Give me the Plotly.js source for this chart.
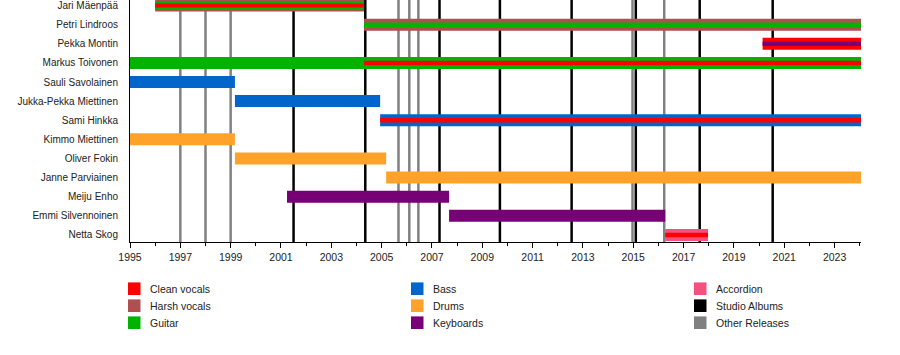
<!DOCTYPE html>
<html>
<head>
<meta charset="utf-8">
<script src="https://cdn.plot.ly/plotly-3.0.1.min.js"></script>
<style>html,body{margin:0;padding:0;background:#fff;}#chart{width:900px;height:355px;}</style>
</head>
<body>
<div id="chart"></div>
<script>
// ---------- data ----------
var members = ['Jari Mäenpää','Petri Lindroos','Pekka Montin','Markus Toivonen','Sauli Savolainen',
  'Jukka-Pekka Miettinen','Sami Hinkka','Kimmo Miettinen','Oliver Fokin','Janne Parviainen',
  'Meiju Enho','Emmi Silvennoinen','Netta Skog'];

var END = 2024.05;

var segMember = ['Jari Mäenpää','Jari Mäenpää','Jari Mäenpää',
  'Petri Lindroos','Petri Lindroos',
  'Pekka Montin','Pekka Montin',
  'Markus Toivonen','Markus Toivonen',
  'Sauli Savolainen',
  'Jukka-Pekka Miettinen',
  'Sami Hinkka','Sami Hinkka',
  'Kimmo Miettinen',
  'Oliver Fokin',
  'Janne Parviainen',
  'Meiju Enho',
  'Emmi Silvennoinen',
  'Netta Skog','Netta Skog'];
var segRole = ['Harsh vocals','Guitar','Clean vocals',
  'Harsh vocals','Guitar',
  'Clean vocals','Keyboards',
  'Guitar','Clean vocals',
  'Bass',
  'Bass',
  'Bass','Clean vocals',
  'Drums',
  'Drums',
  'Drums',
  'Keyboards',
  'Keyboards',
  'Accordion','Clean vocals'];
var segStart = [1996.0,1996.0,1996.0,
  2004.3,2004.3,
  2020.14,2020.14,
  1995.0,2004.3,
  1995.0,
  1999.17,
  2004.94,2004.94,
  1995.0,
  1999.17,
  2005.18,
  2001.24,
  2007.68,
  2016.27,2016.27];
var segEnd = [2004.3,2004.3,2004.3,
  END,END,
  END,END,
  END,END,
  1999.17,
  2004.94,
  END,END,
  1999.17,
  2005.18,
  END,
  2007.68,
  2016.27,
  2017.97,2017.97];

var studioAlbums = [2001.5, 2004.35, 2007.3, 2009.7, 2012.55, 2015.1, 2017.64, 2020.54];
var otherReleases = [1997.0, 1998.0, 1999.0, 2005.67, 2006.1, 2006.46, 2014.97, 2016.23];

var legendItems = ['Clean vocals','Harsh vocals','Guitar','Bass','Drums','Keyboards','Accordion','Studio Albums','Other Releases'];

var tickYears = [1995,1997,1999,2001,2003,2005,2007,2009,2011,2013,2015,2017,2019,2021,2023];

// ---------- styles ----------
var colors = {
  'Clean vocals':'#FF0000',
  'Harsh vocals':'#B04F4F',
  'Guitar':'#00B300',
  'Bass':'#0066CC',
  'Drums':'#FFA229',
  'Keyboards':'#770077',
  'Accordion':'#F5507F',
  'Studio Albums':'#000000',
  'Other Releases':'#808080'
};

var FONT = 'Liberation Sans, Arial, sans-serif';
var ROWPX = 19.1;
var layerPx = {1:[12], 2:[12,4.5], 3:[12,8,4]};

var counts = {};
segMember.forEach(function(m){ counts[m] = (counts[m]||0)+1; });
var seen = {};
var traces = [];
for (var i=0;i<segMember.length;i++){
  var m = segMember[i];
  var k = seen[m]||0; seen[m]=k+1;
  var w = layerPx[counts[m]][k]/ROWPX;
  traces.push({
    type:'bar', orientation:'h',
    y:[m], base:[segStart[i]], x:[segEnd[i]-segStart[i]],
    width:[w],
    marker:{color:colors[segRole[i]], line:{width:0}},
    hoverinfo:'skip', showlegend:false
  });
}

var shapes = [];
otherReleases.forEach(function(d){
  shapes.push({type:'line', xref:'x', yref:'paper', x0:d, x1:d, y0:0, y1:1, layer:'below',
    line:{color:colors['Other Releases'], width:2.5}});
});
studioAlbums.forEach(function(d){
  shapes.push({type:'line', xref:'x', yref:'paper', x0:d, x1:d, y0:0, y1:1, layer:'below',
    line:{color:colors['Studio Albums'], width:2.5}});
});

// legend built from shapes + annotations
var L = 130, PW = 731, PB = 242, PH = 242;
function px2x(p){ return (p-L)/PW; }
function px2y(p){ return (PB-p)/PH; }
var annotations = [];
legendItems.forEach(function(name, i){
  var col = Math.floor(i/3), row = i%3;
  var sx = 128 + col*283;
  var cy = 288.7 + row*17;
  shapes.push({type:'rect', xref:'paper', yref:'paper',
    x0:px2x(sx), x1:px2x(sx+12.5), y0:px2y(cy-6.3), y1:px2y(cy+6.3),
    fillcolor:colors[name], line:{width:0}});
  annotations.push({xref:'paper', yref:'paper', x:px2x(sx+20), y:px2y(cy),
    xanchor:'left', yanchor:'middle', showarrow:false, text:name,
    font:{family:FONT, size:10.5, color:'#222'}});
});

var layout = {
  width:900, height:355,
  margin:{l:130, r:39, t:0, b:113, pad:0},
  paper_bgcolor:'#fff', plot_bgcolor:'#fff',
  barmode:'overlay',
  showlegend:false,
  font:{family:FONT, size:10, color:'#222'},
  xaxis:{
    range:[1995, END], autorange:false,
    tickmode:'array', tickvals:tickYears, ticktext:tickYears.map(String),
    ticks:'outside', ticklen:5, tickwidth:1, tickcolor:'#000',
    tickfont:{family:FONT, size:10.5, color:'#222'},
    minor:{tickmode:'linear', tick0:1995, dtick:1, ticks:'outside', ticklen:3, tickwidth:1, tickcolor:'#000', showgrid:false},
    showline:true, linecolor:'#000', linewidth:1,
    showgrid:false, zeroline:false, fixedrange:true
  },
  yaxis:{
    type:'category', categoryorder:'array', categoryarray:members,
    range:[12.37,-0.29], autorange:false,
    showline:true, linecolor:'#000', linewidth:1,
    ticks:'', ticklabelstandoff:9,
    tickfont:{family:FONT, size:10, color:'#222'},
    showgrid:false, zeroline:false, fixedrange:true
  },
  shapes:shapes,
  annotations:annotations
};

Plotly.newPlot('chart', traces, layout, {displayModeBar:false, staticPlot:true});
</script>
</body>
</html>
